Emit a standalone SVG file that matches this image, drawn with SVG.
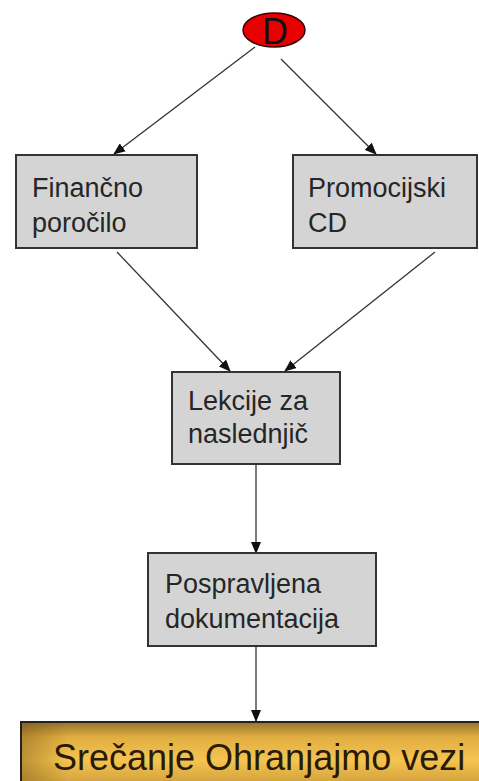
<svg xmlns="http://www.w3.org/2000/svg" width="479" height="781" viewBox="0 0 479 781">
  <style>
    .box { fill: #d4d4d4; stroke: #333; stroke-width: 2; }
    .lbl { font-family: "Liberation Sans", Arial, sans-serif; font-size: 27px; fill: #262626; }
    .edge { stroke: #333; stroke-width: 1.3; fill: none; marker-end: url(#arr); }
  </style>
  <defs>
    <marker id="arr" markerUnits="userSpaceOnUse" markerWidth="12" markerHeight="10" refX="11" refY="5" orient="auto">
      <path d="M0,0 L12,5 L0,10 Z" fill="#111"/>
    </marker>
    <linearGradient id="gold" x1="0" y1="0" x2="0" y2="1">
      <stop offset="0" stop-color="#96722c"/>
      <stop offset="0.22" stop-color="#e2ae42"/>
      <stop offset="0.55" stop-color="#f4c450"/>
      <stop offset="1" stop-color="#c69436"/>
    </linearGradient>
    <linearGradient id="goldH" x1="0" y1="0" x2="1" y2="0">
      <stop offset="0" stop-color="#6a4a10" stop-opacity="0.4"/>
      <stop offset="0.1" stop-color="#6a4a10" stop-opacity="0"/>
      <stop offset="1" stop-color="#6a4a10" stop-opacity="0"/>
    </linearGradient>
  </defs>

  <g id="connectors">
    <line class="edge" x1="255" y1="47" x2="114" y2="154"/>
    <line class="edge" x1="281" y1="59" x2="376" y2="154"/>
    <line class="edge" x1="117" y1="252" x2="230" y2="371"/>
    <line class="edge" x1="435" y1="252" x2="285" y2="371"/>
    <line class="edge" x1="256" y1="465" x2="256" y2="553"/>
    <line class="edge" x1="256" y1="646" x2="256" y2="721"/>
  </g>

  <g id="node-D">
    <ellipse cx="274" cy="30" rx="31" ry="17" fill="#e60000" stroke="#3a0000" stroke-width="1.5"/>
    <text x="275" y="44" text-anchor="middle" font-family="Liberation Sans, Arial, sans-serif" font-size="36" fill="#111">D</text>
  </g>

  <g id="node-financno">
    <rect class="box" x="16" y="155" width="181" height="93"/>
    <text class="lbl" x="32" y="197">Finančno</text>
    <text class="lbl" x="32" y="232">poročilo</text>
  </g>

  <g id="node-promocijski">
    <rect class="box" x="293" y="155" width="184" height="93"/>
    <text class="lbl" x="308" y="197">Promocijski</text>
    <text class="lbl" x="308" y="232">CD</text>
  </g>

  <g id="node-lekcije">
    <rect class="box" x="172" y="372" width="168" height="92"/>
    <text class="lbl" x="188" y="410">Lekcije za</text>
    <text class="lbl" x="188" y="443">naslednjič</text>
  </g>

  <g id="node-pospravljena">
    <rect class="box" x="148" y="553" width="228" height="93"/>
    <text class="lbl" x="165" y="593">Pospravljena</text>
    <text class="lbl" x="165" y="628">dokumentacija</text>
  </g>

  <g id="node-srecanje">
    <rect x="21" y="722" width="470" height="70" fill="url(#gold)" stroke="#222" stroke-width="2"/>
    <rect x="22" y="723" width="460" height="60" fill="url(#goldH)"/>
    <text x="53" y="770" font-family="Liberation Sans, Arial, sans-serif" font-size="36" fill="#2a1a05">Srečanje Ohranjajmo vezi</text>
  </g>
</svg>
